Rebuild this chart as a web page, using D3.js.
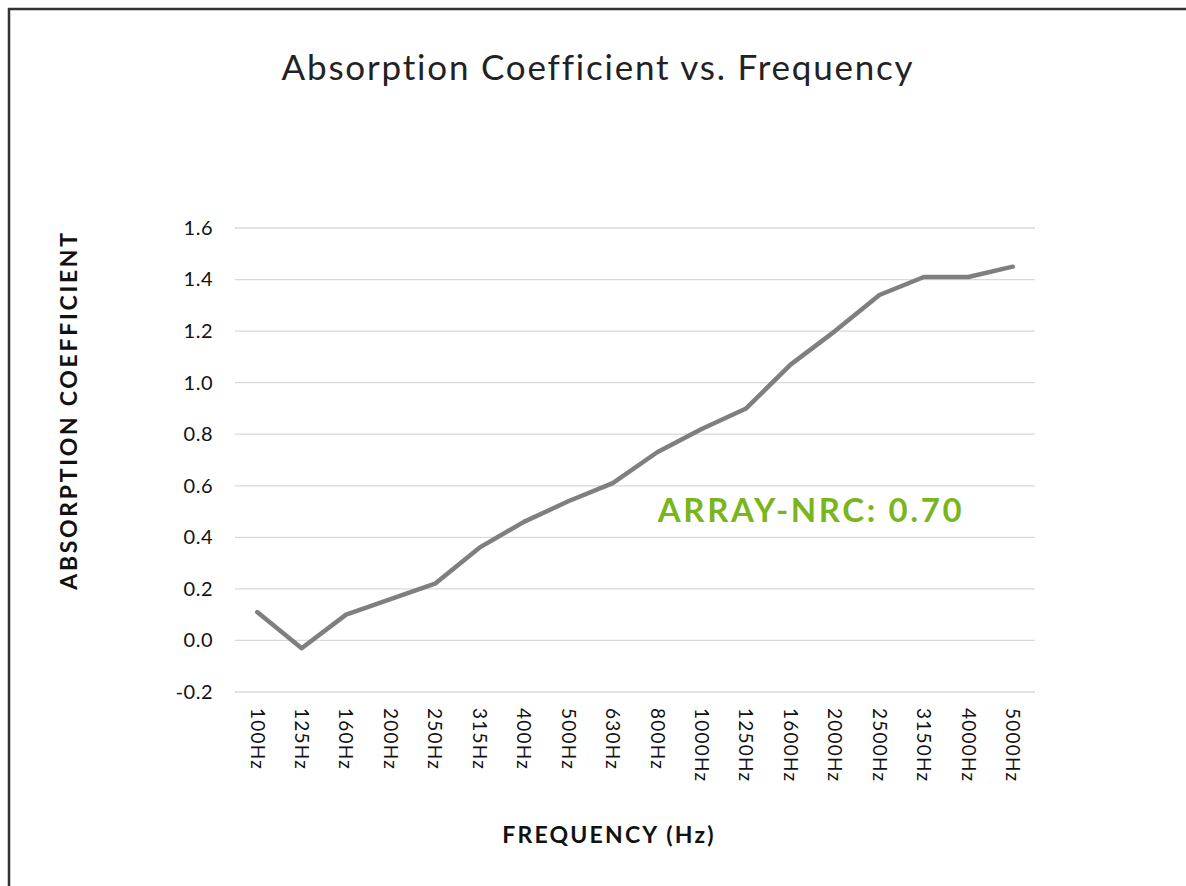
<!DOCTYPE html>
<html>
<head>
<meta charset="utf-8">
<script src="https://cdn.jsdelivr.net/npm/d3@7"></script>
<style>
	body { margin: 0; background: #fff; }
	text { font-family: Lato, "Open Sans", sans-serif; }
</style>
</head>
<body>
<script>
// frequency bands and measured absorption values
const frequencies = ["100Hz", "125Hz", "160Hz", "200Hz", "250Hz", "315Hz", "400Hz", "500Hz", "630Hz",
	"800Hz", "1000Hz", "1250Hz", "1600Hz", "2000Hz", "2500Hz", "3150Hz", "4000Hz", "5000Hz"];
const absorption = [0.11, -0.03, 0.10, 0.16, 0.22, 0.36, 0.46, 0.54, 0.61,
	0.73, 0.82, 0.90, 1.07, 1.20, 1.34, 1.41, 1.41, 1.45];
const yTicks = [-0.2, 0.0, 0.2, 0.4, 0.6, 0.8, 1.0, 1.2, 1.4, 1.6];
const yTickLabels = ["-0.2", "0.0", "0.2", "0.4", "0.6", "0.8", "1.0", "1.2", "1.4", "1.6"];
const nrcLabel = "ARRAY-NRC: 0.70";

const width = 1186, height = 886;
const margin = {top: 228, right: 151, bottom: 194, left: 235};

const svg = d3.select("body").append("svg")
	.attr("width", width)
	.attr("height", height);

// outer frame (runs off the right and bottom edge)
svg.append("rect")
	.attr("x", 9).attr("y", 9)
	.attr("width", 1200).attr("height", 900)
	.attr("fill", "none")
	.attr("stroke", "#333")
	.attr("stroke-width", 2.5);

const x = d3.scaleBand()
	.domain(frequencies)
	.range([margin.left, width - margin.right]);

const y = d3.scaleLinear()
	.domain([-0.2, 1.6])
	.range([height - margin.bottom, margin.top]);

// gridlines
svg.append("g")
	.selectAll("line")
	.data(yTicks)
	.enter().append("line")
	.attr("x1", margin.left)
	.attr("x2", width - margin.right)
	.attr("y1", d => y(d))
	.attr("y2", d => y(d))
	.attr("stroke", "#d9d9d9")
	.attr("stroke-width", 1.3);

// y axis labels
const yAxis = svg.append("g")
	.attr("transform", "translate(" + (margin.left - 22) + ",0)")
	.call(d3.axisLeft(y).tickValues(yTicks)
		.tickFormat((d, i) => yTickLabels[i]).tickSize(0).tickPadding(0));
yAxis.select(".domain").remove();
yAxis.selectAll("text")
	.attr("font-size", 20)
	.attr("fill", "#111")
	.attr("letter-spacing", 0.5)
	.style("font-family", "Lato, sans-serif");

// x axis labels, rotated
const xAxis = svg.append("g")
	.attr("transform", "translate(0," + (height - margin.bottom) + ")")
	.call(d3.axisBottom(x).tickSize(0).tickPadding(0));
xAxis.select(".domain").remove();
xAxis.selectAll("text")
	.attr("font-size", 19)
	.attr("fill", "#111")
	.attr("letter-spacing", 1.2)
	.style("font-family", "Lato, sans-serif")
	.attr("text-anchor", "start")
	.attr("dy", "0.35em")
	.attr("transform", "translate(0,16) rotate(90)");

// the line
const line = d3.line()
	.x((d, i) => x(frequencies[i]) + x.bandwidth() / 2)
	.y(d => y(d));

svg.append("path")
	.datum(absorption)
	.attr("d", line)
	.attr("fill", "none")
	.attr("stroke", "#7f7f7f")
	.attr("stroke-width", 4.5)
	.attr("stroke-linecap", "round")
	.attr("stroke-linejoin", "round");

// NRC annotation
svg.append("text")
	.attr("x", 811)
	.attr("y", 522)
	.attr("text-anchor", "middle")
	.attr("font-size", 33)
	.attr("font-weight", "bold")
	.attr("letter-spacing", 2.6)
	.attr("fill", "#7ab51d")
	.text(nrcLabel);

// title
svg.append("text")
	.attr("x", 598)
	.attr("y", 80)
	.attr("text-anchor", "middle")
	.attr("font-size", 35)
	.attr("letter-spacing", 1.8)
	.attr("fill", "#222")
	.text("Absorption Coefficient vs. Frequency");

// axis titles
svg.append("text")
	.attr("x", 609)
	.attr("y", 843)
	.attr("text-anchor", "middle")
	.attr("font-size", 23)
	.attr("font-weight", "bold")
	.attr("letter-spacing", 2.2)
	.attr("fill", "#111")
	.text("FREQUENCY (Hz)");

svg.append("text")
	.attr("transform", "translate(77,410) rotate(-90)")
	.attr("text-anchor", "middle")
	.attr("font-size", 23)
	.attr("font-weight", "bold")
	.attr("letter-spacing", 2.7)
	.attr("fill", "#111")
	.text("ABSORPTION COEFFICIENT");
</script>
</body>
</html>
